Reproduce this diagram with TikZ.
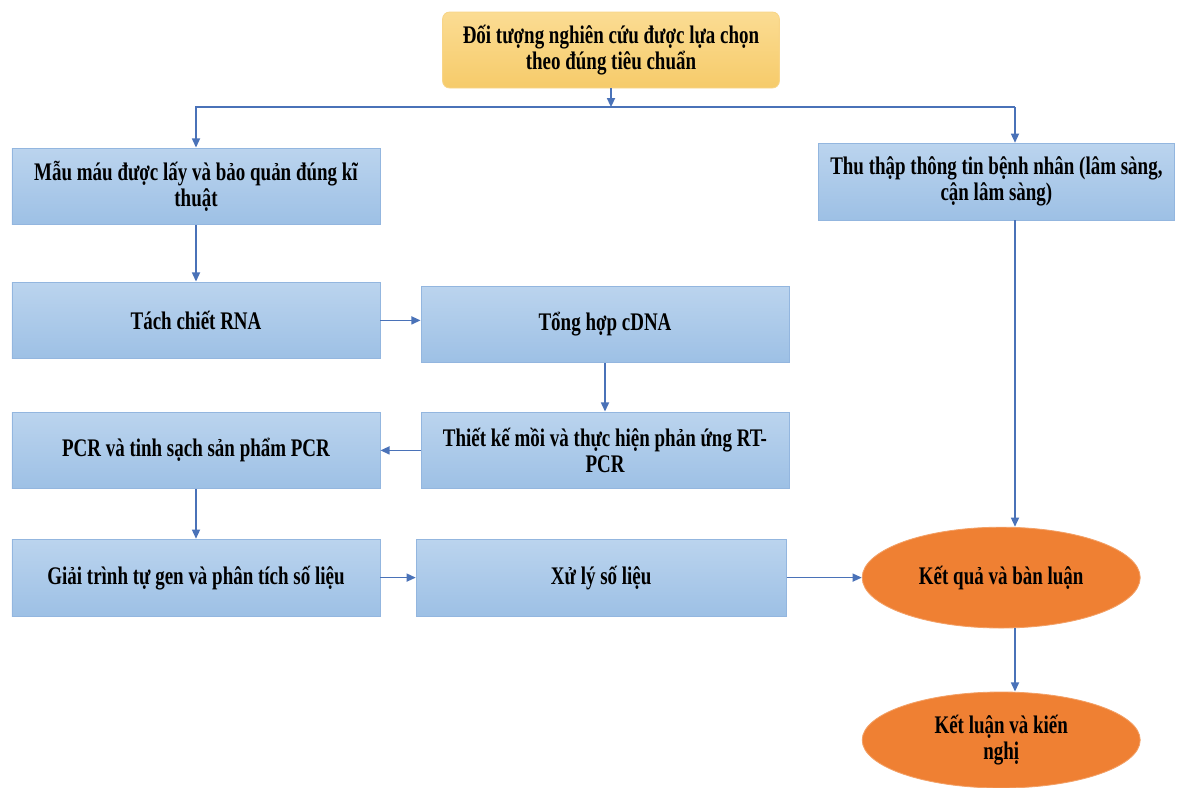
\documentclass[tikz,border=0pt]{standalone}
\usepackage{fontspec}
\setmainfont{Liberation Serif}[FakeStretch=0.75]
\usetikzlibrary{arrows.meta,shapes.geometric}
\definecolor{linkblue}{HTML}{4A72B8}
\definecolor{boxtop}{HTML}{BBD4EE}
\definecolor{boxbot}{HTML}{9DC0E5}
\definecolor{boxline}{HTML}{93B6DF}
\definecolor{goldtop}{HTML}{FBDC93}
\definecolor{goldbot}{HTML}{F6CB6A}
\definecolor{orangefill}{HTML}{EF8033}
\definecolor{orangeline}{HTML}{F3A066}
\begin{document}
\begin{tikzpicture}[
step box/.style={draw=boxline,line width=0.6pt,top color=boxtop,bottom color=boxbot,minimum width=9.2cm,minimum height=1.92cm,inner xsep=2pt,align=center,font=\bfseries\fontsize{18}{18.6}\selectfont,text=black},
start/.style={step box,draw=goldbot!80!white,top color=goldtop,bottom color=goldbot,rounded corners=5pt,minimum width=8.42cm,minimum height=1.9cm},
result/.style={ellipse,draw=orangeline,line width=0.6pt,fill=orangefill,minimum width=6.95cm,minimum height=2.52cm,inner sep=0pt,align=center,font=\bfseries\fontsize{18}{18.6}\selectfont,text=black},
link/.style={draw=linkblue,line width=1.2pt,-{Triangle[length=2.3mm,width=2mm]}},
plain/.style={draw=linkblue,line width=1.2pt}
]
\useasboundingbox (0,0) rectangle (29.525,-19.675);
\node[start] (dt) at (15.275,-1.25) {Đối tượng nghiên cứu được lựa chọn\\theo đúng tiêu chuẩn};
\node[step box] (mau) at (4.9,-4.66) {Mẫu máu được lấy và bảo quản đúng kĩ\\thuật};
\node[step box,minimum width=8.92cm] (thu) at (24.91,-4.54) {Thu thập thông tin bệnh nhân (lâm sàng,\\cận lâm sàng)};
\node[step box] (rna) at (4.9,-8.01) {Tách chiết RNA};
\node[step box] (cdna) at (15.125,-8.11) {Tổng hợp cDNA};
\node[step box] (rt) at (15.125,-11.26) {Thiết kế mồi và thực hiện phản ứng RT-\\PCR};
\node[step box] (pcr) at (4.9,-11.26) {PCR và tinh sạch sản phẩm PCR};
\node[step box] (gt) at (4.9,-14.44) {Giải trình tự gen và phân tích số liệu};
\node[step box,minimum width=9.25cm] (xl) at (15.03,-14.44) {Xử lý số liệu};
\node[result] (kq) at (25.03,-14.44) {Kết quả và bàn luận};
\node[result,minimum height=2.4cm] (kl) at (25.03,-18.5) {Kết luận và kiến\\nghị};
\coordinate (split) at (15.275,-2.68);
\coordinate (rx) at (25.375,-2.68);
\draw[link] (dt) -- (split);
\draw[plain] (split) -| (rx);
\draw[link] (split) -| (mau);
\draw[link] (rx) -- (rx |- thu.north);
\draw[link] (mau) -- (rna);
\draw[link] (rna) -- (rna -| cdna.west);
\draw[link] (cdna) -- (rt);
\draw[link] (rt) -- (pcr);
\draw[link] (pcr) -- (gt);
\draw[link] (gt) -- (xl);
\draw[link] (xl) -- (kq);
\draw[link] (thu.south -| rx) -- (kq.north -| rx);
\draw[link] (kq.south -| rx) -- (kl.north -| rx);
\end{tikzpicture}
\end{document}
